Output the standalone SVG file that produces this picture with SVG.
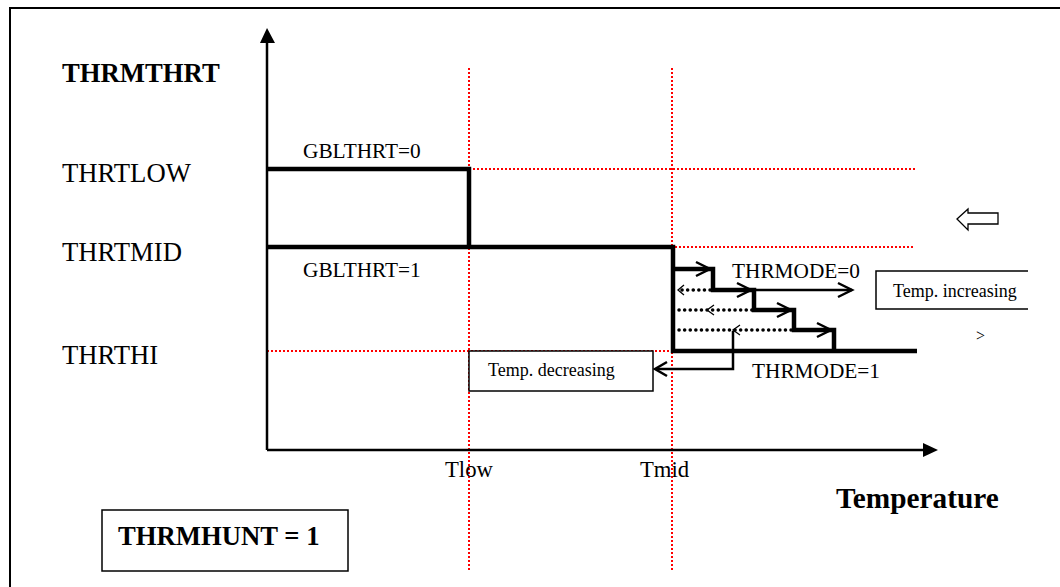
<svg xmlns="http://www.w3.org/2000/svg" width="1060" height="587" viewBox="0 0 1060 587">
<style>
.red{stroke:#ff0000;stroke-width:2;stroke-dasharray:2 2;fill:none}
.thick{stroke:#000;stroke-width:4.5;fill:none}
.mid{stroke:#000;stroke-width:2.5;fill:none}
.dot{stroke:#000;stroke-width:3.5;stroke-dasharray:0.1 5.5;stroke-linecap:round;fill:none}
.chev{stroke:#000;stroke-width:2.5;fill:none}
.chevs{stroke:#000;stroke-width:1.3;fill:none}
.box{fill:#fff;stroke:#000;stroke-width:1.5}
</style>
<rect x="0" y="0" width="1060" height="587" fill="#fff"/>
<g id="frame"><path d="M10,600 L10,8 L1070,8" fill="none" stroke="#000" stroke-width="2"/></g>
<g id="grid">
<line class="red" x1="469" y1="68" x2="469" y2="572"/>
<line class="red" x1="672" y1="68" x2="672" y2="572"/>
<line class="red" x1="469" y1="169" x2="915" y2="169"/>
<line class="red" x1="267" y1="247" x2="915" y2="247"/>
<line class="red" x1="267" y1="351" x2="672" y2="351"/>
</g>
<g id="axes">
<line x1="267" y1="450" x2="267" y2="40" stroke="#000" stroke-width="2.5"/>
<polygon points="267,28 260,43 275,43" fill="#000"/>
<line x1="267" y1="450" x2="925" y2="450" stroke="#000" stroke-width="2.5"/>
<polygon points="938,450 923,443 923,457" fill="#000"/>
</g>
<g id="connectors">
<path class="thick" d="M267,169 L469,169 L469,247"/>
<path class="thick" d="M267,247 L673,247 L673,351 L917,351"/>
<path class="thick" d="M673,269 L713,269 L713,290 L754,290 L754,310 L794,310 L794,330 L834,330 L834,351"/>
<path class="mid" d="M754,290 L852,290"/>
<path class="chev" d="M696,262 L710,269 L696,276"/>
<path class="chev" d="M737,283 L751,290 L737,297"/>
<path class="chev" d="M777,303 L791,310 L777,317"/>
<path class="chev" d="M817,323 L831,330 L817,337"/>
<path class="chev" d="M838,283 L852,290 L838,297"/>
<line class="dot" x1="682" y1="290" x2="712" y2="290"/>
<line class="dot" x1="679" y1="310" x2="752" y2="310"/>
<line class="dot" x1="679" y1="330" x2="792" y2="330"/>
<path class="chevs" d="M684,285 L678,290 L684,295"/>
<path class="chevs" d="M714,305 L707,310 L714,315"/>
<path class="chevs" d="M740,325 L733,330 L740,335"/>
<path class="mid" d="M733,331 L733,369 L656,369"/>
<path class="chev" d="M667,362 L655,369 L667,376"/>
<polygon points="957,219 968,209 968,213 998,213 998,224 968,224 968,230" fill="#fff" stroke="#000" stroke-width="1.3"/>
</g>
<g id="labels" font-family="Liberation Serif, Times New Roman, serif" fill="#000">
<text font-weight="bold" x="62" y="82" font-size="26.7">THRMTHRT</text>
<text x="62" y="182" font-size="26.7">THRTLOW</text>
<text x="62" y="261" font-size="26.7">THRTMID</text>
<text x="62" y="364" font-size="26.7">THRTHI</text>
<text x="303" y="158" font-size="21.3">GBLTHRT=0</text>
<text x="303" y="277" font-size="21.3">GBLTHRT=1</text>
<text x="732" y="278" font-size="21.3">THRMODE=0</text>
<text x="752" y="378" font-size="21.3">THRMODE=1</text>
<text x="445" y="477" font-size="22.7">Tlow</text>
<text x="640" y="477" font-size="22.7">Tmid</text>
<text font-weight="bold" x="836" y="508" font-size="29.3">Temperature</text>
<text x="976" y="341" font-size="16">&gt;</text>
</g>
<g id="node-increasing" font-family="Liberation Serif, Times New Roman, serif">
<path d="M1028,271 L876,271 L876,309 L1028,309" fill="#fff" stroke="#000" stroke-width="1.5"/>
<text x="893" y="297" font-size="18">Temp. increasing</text>
</g>
<g id="node-decreasing" font-family="Liberation Serif, Times New Roman, serif">
<rect class="box" x="469" y="351" width="184" height="40"/>
<text x="488" y="376" font-size="18">Temp. decreasing</text>
</g>
<g id="node-thrmhunt" font-family="Liberation Serif, Times New Roman, serif">
<rect class="box" x="102" y="510" width="246" height="61"/>
<text font-weight="bold" x="118" y="545" font-size="26.7">THRMHUNT = 1</text>
</g>
</svg>
